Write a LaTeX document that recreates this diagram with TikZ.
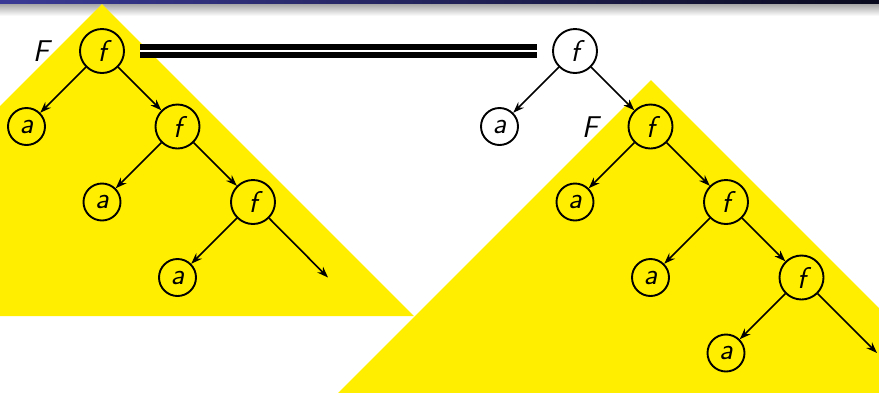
\documentclass[tikz,border=0pt]{standalone}
\usetikzlibrary{arrows.meta}
\definecolor{hlyellow}{RGB}{255,238,0}
\definecolor{barblue}{RGB}{58,58,150}
\definecolor{bardark}{RGB}{10,10,30}
\begin{document}
\begin{tikzpicture}[x=1pt,y=-1pt,
  treenode/.style={circle,draw=black,line width=1.9pt,inner sep=0pt,
    font=\fontsize{30}{36}\selectfont\sffamily\itshape},
  fnode/.style={treenode,minimum size=44pt},
  anode/.style={treenode,minimum size=37pt},
  lbl/.style={font=\fontsize{30}{36}\selectfont\sffamily\itshape,inner sep=0pt},
  edge/.style={line width=1.6pt,-{Stealth[length=11pt,width=8pt,inset=3.5pt]}},
  eqline/.style={double=white,line width=5.8pt,double distance=2.6pt,draw=black}]
\useasboundingbox (0,0) rectangle (879,392);
\begin{scope}
\clip (0,0) rectangle (879,392);
% header strip
\shade[top color=gray!75,bottom color=white] (0,3) rectangle (879,16);
\shade[left color=barblue,right color=bardark] (0,0) rectangle (879,3);
% highlight triangles
\fill[hlyellow] (102,4) -- (414,316) -- (-210,316) -- cycle;
\fill[hlyellow] (651,80) -- (975,404) -- (327,404) -- cycle;
\end{scope}
% left tree
\node[fnode] (L0) at (102,51) {f};
\node[anode] (L1a) at (26.5,126.5) {a};
\node[fnode] (L1f) at (177.5,126.5) {f};
\node[anode] (L2a) at (102,202) {a};
\node[fnode] (L2f) at (253,202) {f};
\node[anode] (L3a) at (177.5,277.5) {a};
\coordinate (L3e) at (328,277.5);
\node[lbl] (LF) at (41,51) {F};
\draw[edge] (L0) -- (L1a);
\draw[edge] (L0) -- (L1f);
\draw[edge] (L1f) -- (L2a);
\draw[edge] (L1f) -- (L2f);
\draw[edge] (L2f) -- (L3a);
\draw[edge] (L2f) -- (L3e);
% right tree
\node[fnode] (R0) at (575,51) {f};
\node[anode] (R1a) at (499.5,126.5) {a};
\node[fnode] (R1f) at (650.5,126.5) {f};
\node[anode] (R2a) at (575,202) {a};
\node[fnode] (R2f) at (726,202) {f};
\node[anode] (R3a) at (650.5,277.5) {a};
\node[fnode] (R3f) at (801.5,277.5) {f};
\node[anode] (R4a) at (726,353) {a};
\coordinate (R4e) at (877,353);
\node[lbl] (RF) at (590,127) {F};
\draw[edge] (R0) -- (R1a);
\draw[edge] (R0) -- (R1f);
\draw[edge] (R1f) -- (R2a);
\draw[edge] (R1f) -- (R2f);
\draw[edge] (R2f) -- (R3a);
\draw[edge] (R2f) -- (R3f);
\draw[edge] (R3f) -- (R4a);
\draw[edge] (R3f) -- (R4e);
% equality
\coordinate (EqA) at (140,51);
\coordinate (EqB) at (537,51);
\draw[eqline] (EqA) -- (EqB);
\end{tikzpicture}
\end{document}
